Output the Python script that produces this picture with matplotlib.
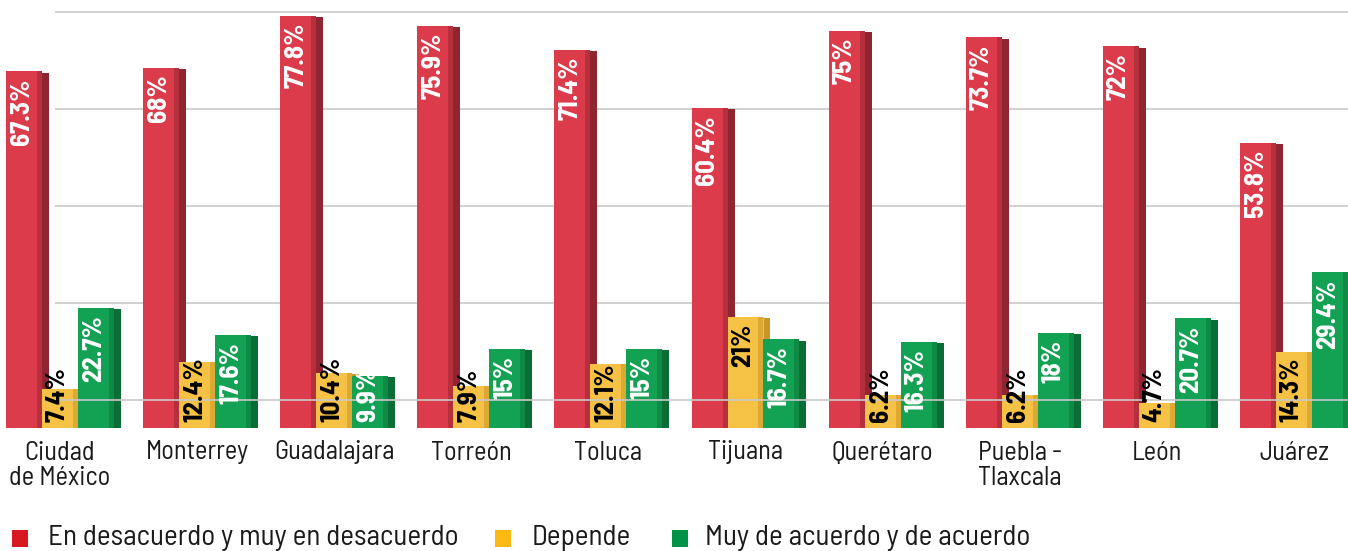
import numpy as np
import matplotlib
matplotlib.use("Agg")
import matplotlib.pyplot as plt
from matplotlib.patches import Rectangle

# ---------------- data ----------------
cities = ["Ciudad\nde México", "Monterrey", "Guadalajara", "Torreón", "Toluca",
          "Tijuana", "Querétaro", "Puebla -\nTlaxcala", "León", "Juárez"]
desacuerdo = [67.3, 68, 77.8, 75.9, 71.4, 60.4, 75, 73.7, 72, 53.8]
depende = [7.4, 12.4, 10.4, 7.9, 12.1, 21, 6.2, 6.2, 4.7, 14.3]
acuerdo = [22.7, 17.6, 9.9, 15, 15, 16.7, 16.3, 18, 20.7, 29.4]
series_names = ["En desacuerdo y muy en desacuerdo", "Depende",
                "Muy de acuerdo y de acuerdo"]
grid_values = [0, 20, 40, 60, 80]

# ---------------- style ----------------
FONT = ["Barlow Semi Condensed", "Fira Sans Condensed", "DejaVu Sans"]
plt.rcParams["font.family"] = FONT
face_cols = ["#db3b4b", "#f6c246", "#13a153"]
edge_cols = ["#b52f3c", "#dcaa34", "#0e8a45"]
side_cols = ["#8e2530", "#c99626", "#0a6d36"]
text_cols = ["white", "black", "white"]
legend_cols = ["#d71920", "#fdb913", "#009246"]

W, H, DPI = 1348, 551, 100
fig = plt.figure(figsize=(W / DPI, H / DPI), dpi=DPI)
base_px = 428.0
px_per_unit = 5.3
ax_bottom = (H - base_px) / H
ax = fig.add_axes([0, ax_bottom, 1, 1 - ax_bottom])
ymax = base_px / px_per_unit
ax.set_ylim(0, ymax)
step_px = 137.1
x0_px = 60
ax.set_xlim(-x0_px / step_px, (W - x0_px) / step_px)

x = np.arange(len(cities))
bw = 36 / step_px
side_w = 7 / step_px
strip_w = 5 / step_px
offsets = [-bw, 0, bw]
all_series = [desacuerdo, depende, acuerdo]

# back-wall gridlines (perspective offset)
wall_off, wall_scale = 5.3, 0.916
for gv in grid_values:
    yy = wall_off + gv * wall_scale
    z = 6 if gv == 0 else 0
    ax.hlines(yy, -0.04, 9.6, color="#c9c9c9", lw=1.2, zorder=z)

renderer = fig.canvas.get_renderer()
for s, vals in enumerate(all_series):
    xs = x + offsets[s]
    # side (depth) face, drawn behind the front faces
    ax.bar(xs + bw / 2 + side_w / 2, np.array(vals) - 0.3, width=side_w,
           color=side_cols[s], zorder=1, linewidth=0)
    ax.bar(xs, vals, width=bw, color=face_cols[s], zorder=2, linewidth=0)
    # subtle darker strip on the right of the front face
    ax.bar(xs + bw / 2 - strip_w / 2, vals, width=strip_w, color=edge_cols[s],
           zorder=3, linewidth=0)
    for xi, v in zip(xs, vals):
        lab = f"{v:g}%"
        t = ax.text(xi - 0.015, 0, lab, rotation=90, ha="center", va="top",
                    color=text_cols[s], fontsize=19.5, fontweight="bold",
                    zorder=7)
        tlen_px = t.get_window_extent(renderer).height
        bar_px = v * px_per_unit
        if bar_px >= tlen_px + 12:
            t.set_y(v - 7 / px_per_unit)
            t.set_va("top")
        else:
            t.set_y(6 / px_per_unit)
            t.set_va("bottom")

ax.set_xticks(x)
ax.set_xticklabels(cities, fontsize=19, color="#1a1a1a", linespacing=1.1)
ax.tick_params(axis="x", length=0, pad=9)
ax.tick_params(axis="y", left=False, labelleft=False)
for sp in ax.spines.values():
    sp.set_visible(False)
ax.set_facecolor("none")

# ---------------- legend ----------------
leg_sq_x = [12, 495, 672]
leg_tx_x = [48, 532, 705]
yc = 538
for col, sx, tx, name in zip(legend_cols, leg_sq_x, leg_tx_x, series_names):
    fig.add_artist(Rectangle((sx / W, (H - 547) / H), 16 / W, 17 / H,
                             transform=fig.transFigure, color=col, lw=0))
    fig.text(tx / W, (H - yc) / H, name, fontsize=21,
             va="center", ha="left", color="#1a1a1a")

fig.savefig("out.png", dpi=DPI)
